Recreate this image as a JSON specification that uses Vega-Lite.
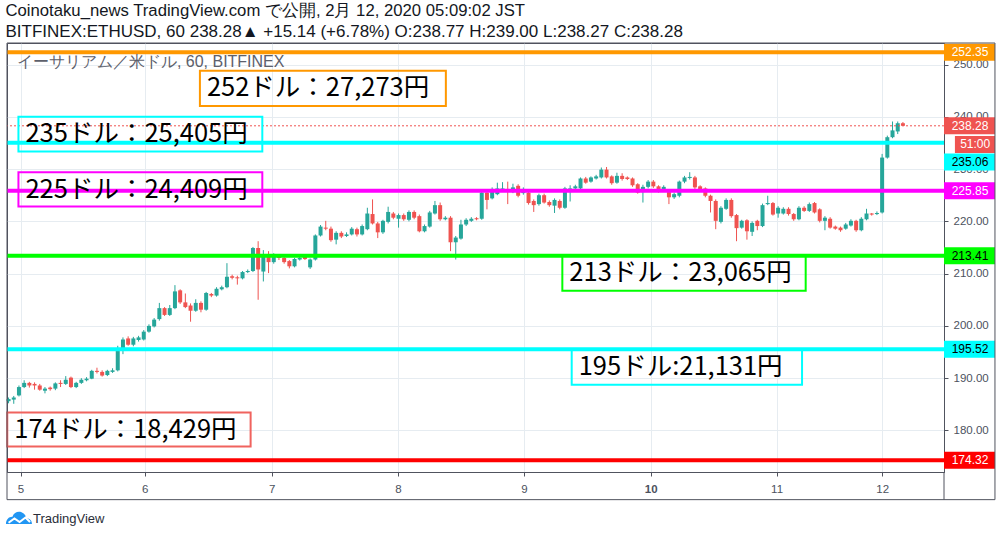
{
  "$schema": "https://vega.github.io/schema/vega-lite/v6.json",
  "width": 937,
  "height": 429,
  "autosize": "none",
  "padding": {"left": 7, "top": 43, "right": 58, "bottom": 65},
  "background": "white",
  "title": {
    "text": "Coinotaku_news TradingView.com で公開, 2月 12, 2020 05:09:02 JST",
    "subtitle": "BITFINEX:ETHUSD, 60 238.28▲ +15.14 (+6.78%) O:238.77 H:239.00 L:238.27 C:238.28",
    "anchor": "start",
    "frame": "group",
    "orient": "top",
    "offset": 3,
    "dx": -1.5,
    "font": "Liberation Sans",
    "fontSize": 16.7,
    "fontWeight": "normal",
    "color": "#131722",
    "subtitleFont": "Liberation Sans",
    "subtitleFontSize": 17,
    "subtitleColor": "#131722",
    "subtitlePadding": 4
  },
  "config": {
    "view": {"stroke": "#50535e", "strokeWidth": 1},
    "axis": {
      "labelFont": "Liberation Sans",
      "labelColor": "#4c525e",
      "gridColor": "#e6ecf1",
      "gridWidth": 1,
      "domainColor": "#50535e",
      "tickColor": "#50535e",
      "tickSize": 4
    }
  },
  "datasets": {
    "candles": [
      {"i":0,"o":185.6,"h":186.3,"l":185.2,"c":186.0},
      {"i":1,"o":185.9,"h":186.6,"l":185.1,"c":186.3},
      {"i":2,"o":186.7,"h":188.6,"l":186.5,"c":188.3},
      {"i":3,"o":188.3,"h":189.6,"l":188.1,"c":189.1},
      {"i":4,"o":189.1,"h":189.3,"l":188.2,"c":188.6},
      {"i":5,"o":188.9,"h":189.2,"l":187.8,"c":188.6},
      {"i":6,"o":188.6,"h":188.9,"l":187.6,"c":187.8},
      {"i":7,"o":187.6,"h":188.3,"l":187.1,"c":188.0},
      {"i":8,"o":188.2,"h":188.4,"l":187.6,"c":187.9},
      {"i":9,"o":188.0,"h":189.2,"l":187.7,"c":189.0},
      {"i":10,"o":189.1,"h":189.6,"l":188.3,"c":188.9},
      {"i":11,"o":188.9,"h":190.4,"l":188.7,"c":189.7},
      {"i":12,"o":190.1,"h":190.3,"l":188.1,"c":188.3},
      {"i":13,"o":188.3,"h":189.3,"l":188.1,"c":189.1},
      {"i":14,"o":189.1,"h":190.0,"l":188.9,"c":189.7},
      {"i":15,"o":189.6,"h":190.2,"l":189.4,"c":189.9},
      {"i":16,"o":189.9,"h":191.6,"l":189.8,"c":191.4},
      {"i":17,"o":191.4,"h":192.0,"l":190.9,"c":191.2},
      {"i":18,"o":191.2,"h":191.5,"l":190.3,"c":190.5},
      {"i":19,"o":190.6,"h":191.6,"l":190.4,"c":191.4},
      {"i":20,"o":191.2,"h":191.9,"l":191.0,"c":191.5},
      {"i":21,"o":191.5,"h":196.2,"l":191.3,"c":195.4},
      {"i":22,"o":195.7,"h":197.8,"l":194.6,"c":197.4},
      {"i":23,"o":197.6,"h":198.0,"l":196.2,"c":196.4},
      {"i":24,"o":196.4,"h":197.9,"l":196.1,"c":197.6},
      {"i":25,"o":197.3,"h":198.1,"l":197.0,"c":197.8},
      {"i":26,"o":197.4,"h":199.2,"l":197.2,"c":198.9},
      {"i":27,"o":198.9,"h":200.3,"l":198.7,"c":200.0},
      {"i":28,"o":199.9,"h":201.5,"l":199.7,"c":201.2},
      {"i":29,"o":201.3,"h":204.4,"l":201.0,"c":203.4},
      {"i":30,"o":203.4,"h":203.6,"l":201.9,"c":202.1},
      {"i":31,"o":202.1,"h":204.0,"l":201.9,"c":203.4},
      {"i":32,"o":203.4,"h":207.8,"l":203.2,"c":206.6},
      {"i":33,"o":206.8,"h":207.0,"l":204.2,"c":204.5},
      {"i":34,"o":204.5,"h":206.2,"l":203.4,"c":203.6},
      {"i":35,"o":203.9,"h":204.3,"l":200.8,"c":202.9},
      {"i":36,"o":202.9,"h":205.1,"l":202.7,"c":204.4},
      {"i":37,"o":204.4,"h":204.7,"l":202.6,"c":203.1},
      {"i":38,"o":203.1,"h":206.5,"l":202.9,"c":206.3},
      {"i":39,"o":206.1,"h":206.3,"l":205.5,"c":205.8},
      {"i":40,"o":205.8,"h":207.4,"l":205.6,"c":207.1},
      {"i":41,"o":207.0,"h":207.7,"l":206.8,"c":207.4},
      {"i":42,"o":207.4,"h":212.0,"l":207.2,"c":209.4},
      {"i":43,"o":209.5,"h":209.8,"l":208.9,"c":209.2},
      {"i":44,"o":209.3,"h":209.6,"l":207.9,"c":209.1},
      {"i":45,"o":209.1,"h":210.5,"l":208.9,"c":210.3},
      {"i":46,"o":210.3,"h":210.8,"l":210.1,"c":210.5},
      {"i":47,"o":210.5,"h":215.1,"l":210.3,"c":214.9},
      {"i":48,"o":214.9,"h":216.2,"l":205.0,"c":210.8},
      {"i":49,"o":210.4,"h":214.5,"l":208.5,"c":213.7},
      {"i":50,"o":213.7,"h":214.3,"l":210.1,"c":212.2},
      {"i":51,"o":212.2,"h":213.9,"l":211.9,"c":213.2},
      {"i":52,"o":213.2,"h":213.7,"l":212.6,"c":213.0},
      {"i":53,"o":213.0,"h":213.3,"l":211.9,"c":212.2},
      {"i":54,"o":212.4,"h":212.6,"l":211.0,"c":211.4},
      {"i":55,"o":211.4,"h":213.0,"l":211.2,"c":212.8},
      {"i":56,"o":212.7,"h":213.3,"l":212.5,"c":213.0},
      {"i":57,"o":213.3,"h":213.5,"l":212.6,"c":212.8},
      {"i":58,"o":211.2,"h":212.9,"l":210.9,"c":212.7},
      {"i":59,"o":212.7,"h":217.5,"l":212.5,"c":217.3},
      {"i":60,"o":217.3,"h":219.3,"l":217.1,"c":219.0},
      {"i":61,"o":218.8,"h":220.1,"l":218.3,"c":218.6},
      {"i":62,"o":218.6,"h":219.0,"l":216.1,"c":216.4},
      {"i":63,"o":216.5,"h":218.1,"l":215.6,"c":217.8},
      {"i":64,"o":217.8,"h":218.1,"l":216.8,"c":217.1},
      {"i":65,"o":217.2,"h":217.9,"l":217.0,"c":217.5},
      {"i":66,"o":217.5,"h":218.9,"l":217.3,"c":218.6},
      {"i":67,"o":218.5,"h":218.8,"l":217.1,"c":217.5},
      {"i":68,"o":217.5,"h":219.4,"l":217.3,"c":219.1},
      {"i":69,"o":218.5,"h":222.6,"l":218.3,"c":221.5},
      {"i":70,"o":221.4,"h":224.2,"l":219.4,"c":219.6},
      {"i":71,"o":219.6,"h":219.9,"l":216.8,"c":217.9},
      {"i":72,"o":217.9,"h":220.3,"l":217.6,"c":220.1},
      {"i":73,"o":219.9,"h":222.8,"l":219.6,"c":221.8},
      {"i":74,"o":221.5,"h":221.8,"l":220.4,"c":220.7},
      {"i":75,"o":220.5,"h":221.5,"l":218.8,"c":221.2},
      {"i":76,"o":221.2,"h":221.5,"l":220.1,"c":220.4},
      {"i":77,"o":220.3,"h":222.1,"l":220.0,"c":221.8},
      {"i":78,"o":221.8,"h":222.1,"l":220.4,"c":220.7},
      {"i":79,"o":221.0,"h":221.3,"l":217.9,"c":218.1},
      {"i":80,"o":218.1,"h":219.4,"l":217.9,"c":219.1},
      {"i":81,"o":219.0,"h":222.0,"l":218.8,"c":221.7},
      {"i":82,"o":221.5,"h":223.9,"l":221.3,"c":223.1},
      {"i":83,"o":223.1,"h":223.6,"l":220.1,"c":220.4},
      {"i":84,"o":220.4,"h":221.0,"l":220.2,"c":220.7},
      {"i":85,"o":220.7,"h":221.0,"l":214.3,"c":216.0},
      {"i":86,"o":216.0,"h":217.2,"l":212.7,"c":216.9},
      {"i":87,"o":216.7,"h":220.3,"l":216.5,"c":219.4},
      {"i":88,"o":219.4,"h":220.6,"l":219.1,"c":220.3},
      {"i":89,"o":220.1,"h":220.8,"l":219.9,"c":220.5},
      {"i":90,"o":220.6,"h":220.8,"l":220.2,"c":220.4},
      {"i":91,"o":220.5,"h":225.7,"l":220.3,"c":225.5},
      {"i":92,"o":225.5,"h":225.8,"l":222.3,"c":224.1},
      {"i":93,"o":224.4,"h":226.5,"l":224.2,"c":226.2},
      {"i":94,"o":225.2,"h":227.4,"l":225.0,"c":226.3},
      {"i":95,"o":226.0,"h":227.5,"l":225.8,"c":226.3},
      {"i":96,"o":226.2,"h":227.6,"l":223.3,"c":225.8},
      {"i":97,"o":225.6,"h":227.2,"l":225.4,"c":226.5},
      {"i":98,"o":226.8,"h":227.1,"l":224.6,"c":224.9},
      {"i":99,"o":225.4,"h":226.5,"l":225.1,"c":226.2},
      {"i":100,"o":225.5,"h":225.8,"l":223.2,"c":223.5},
      {"i":101,"o":223.9,"h":224.2,"l":221.8,"c":223.1},
      {"i":102,"o":223.3,"h":225.3,"l":223.0,"c":225.0},
      {"i":103,"o":225.0,"h":225.3,"l":223.4,"c":223.6},
      {"i":104,"o":223.7,"h":224.0,"l":222.8,"c":223.1},
      {"i":105,"o":223.0,"h":224.4,"l":221.6,"c":224.1},
      {"i":106,"o":223.9,"h":224.2,"l":222.3,"c":222.6},
      {"i":107,"o":222.6,"h":226.6,"l":222.4,"c":226.3},
      {"i":108,"o":225.6,"h":226.9,"l":223.8,"c":226.3},
      {"i":109,"o":226.3,"h":227.0,"l":226.1,"c":226.7},
      {"i":110,"o":226.3,"h":228.4,"l":226.1,"c":228.2},
      {"i":111,"o":228.2,"h":228.5,"l":227.2,"c":227.4},
      {"i":112,"o":227.6,"h":228.6,"l":227.4,"c":228.4},
      {"i":113,"o":228.2,"h":228.9,"l":228.0,"c":228.6},
      {"i":114,"o":228.4,"h":230.3,"l":228.2,"c":229.9},
      {"i":115,"o":229.9,"h":230.4,"l":228.2,"c":228.4},
      {"i":116,"o":228.6,"h":228.8,"l":227.0,"c":227.3},
      {"i":117,"o":227.4,"h":229.3,"l":227.2,"c":228.7},
      {"i":118,"o":228.7,"h":229.2,"l":227.8,"c":228.1},
      {"i":119,"o":228.4,"h":228.6,"l":227.9,"c":228.1},
      {"i":120,"o":228.2,"h":228.4,"l":226.6,"c":226.9},
      {"i":121,"o":227.1,"h":227.3,"l":225.3,"c":225.5},
      {"i":122,"o":225.6,"h":227.0,"l":223.6,"c":226.6},
      {"i":123,"o":226.6,"h":227.9,"l":226.3,"c":227.6},
      {"i":124,"o":227.6,"h":227.9,"l":226.4,"c":226.7},
      {"i":125,"o":226.7,"h":226.9,"l":225.5,"c":225.8},
      {"i":126,"o":226.0,"h":226.9,"l":225.8,"c":226.6},
      {"i":127,"o":225.6,"h":225.9,"l":223.3,"c":224.6},
      {"i":128,"o":224.6,"h":225.5,"l":224.3,"c":225.2},
      {"i":129,"o":224.9,"h":227.8,"l":224.6,"c":227.6},
      {"i":130,"o":227.6,"h":228.7,"l":227.3,"c":228.4},
      {"i":131,"o":228.3,"h":229.4,"l":228.0,"c":228.5},
      {"i":132,"o":228.4,"h":228.7,"l":226.2,"c":226.5},
      {"i":133,"o":226.7,"h":226.9,"l":225.8,"c":226.0},
      {"i":134,"o":226.3,"h":226.5,"l":224.6,"c":224.9},
      {"i":135,"o":224.9,"h":225.1,"l":221.7,"c":223.9},
      {"i":136,"o":223.9,"h":224.2,"l":218.5,"c":220.1},
      {"i":137,"o":219.9,"h":222.9,"l":219.6,"c":222.6},
      {"i":138,"o":222.4,"h":224.4,"l":222.2,"c":224.1},
      {"i":139,"o":224.1,"h":224.4,"l":220.7,"c":221.0},
      {"i":140,"o":221.2,"h":221.4,"l":216.2,"c":218.7},
      {"i":141,"o":218.8,"h":220.3,"l":218.6,"c":220.1},
      {"i":142,"o":220.2,"h":220.4,"l":216.5,"c":218.1},
      {"i":143,"o":218.0,"h":220.0,"l":217.2,"c":219.7},
      {"i":144,"o":220.1,"h":220.3,"l":218.3,"c":219.1},
      {"i":145,"o":219.1,"h":223.4,"l":218.9,"c":223.1},
      {"i":146,"o":223.3,"h":224.9,"l":223.1,"c":223.5},
      {"i":147,"o":223.5,"h":223.7,"l":221.1,"c":221.3},
      {"i":148,"o":221.5,"h":222.9,"l":220.7,"c":222.6},
      {"i":149,"o":221.5,"h":222.7,"l":221.3,"c":222.4},
      {"i":150,"o":222.4,"h":222.7,"l":221.1,"c":221.4},
      {"i":151,"o":221.4,"h":221.6,"l":220.1,"c":220.4},
      {"i":152,"o":220.4,"h":222.9,"l":220.2,"c":222.6},
      {"i":153,"o":222.6,"h":222.9,"l":221.8,"c":222.0},
      {"i":154,"o":222.0,"h":223.6,"l":221.8,"c":223.3},
      {"i":155,"o":223.5,"h":223.7,"l":221.5,"c":221.7},
      {"i":156,"o":222.3,"h":222.5,"l":219.8,"c":220.1},
      {"i":157,"o":220.1,"h":221.0,"l":218.3,"c":220.7},
      {"i":158,"o":220.5,"h":220.8,"l":218.6,"c":218.8},
      {"i":159,"o":219.0,"h":219.2,"l":218.4,"c":218.6},
      {"i":160,"o":218.8,"h":219.0,"l":218.0,"c":218.3},
      {"i":161,"o":218.6,"h":219.7,"l":218.4,"c":219.4},
      {"i":162,"o":219.2,"h":220.4,"l":219.0,"c":220.1},
      {"i":163,"o":220.1,"h":220.3,"l":218.0,"c":218.3},
      {"i":164,"o":218.3,"h":220.8,"l":218.1,"c":220.5},
      {"i":165,"o":220.4,"h":222.4,"l":220.2,"c":221.5},
      {"i":166,"o":221.5,"h":221.6,"l":221.1,"c":221.3},
      {"i":167,"o":221.4,"h":221.9,"l":221.2,"c":221.6},
      {"i":168,"o":221.7,"h":232.9,"l":221.5,"c":232.2},
      {"i":169,"o":232.2,"h":236.4,"l":232.0,"c":236.1},
      {"i":170,"o":236.1,"h":239.1,"l":235.9,"c":237.4},
      {"i":171,"o":237.2,"h":239.1,"l":236.7,"c":238.77},
      {"i":172,"o":238.77,"h":239.0,"l":238.27,"c":238.28}
    ],
    "levels": [
      {"key":"252","price":252.35},
      {"key":"235","price":235.06},
      {"key":"225","price":225.85},
      {"key":"213","price":213.41},
      {"key":"195","price":195.52},
      {"key":"174","price":174.32}
    ],
    "boxes": [
      {"key":"252","x1":36.8,"x2":84.1,"top":248.82,"bottom":242.08,"label":"252ドル：27,273円"},
      {"key":"235","x1":1.9,"x2":48.8,"top":240.03,"bottom":233.34,"label":"235ドル：25,405円"},
      {"key":"225","x1":1.9,"x2":48.8,"top":229.4,"bottom":222.83,"label":"225ドル：24,409円"},
      {"key":"213","x1":106.5,"x2":153.3,"top":213.4,"bottom":206.71,"label":"213ドル：23,065円"},
      {"key":"195","x1":108.3,"x2":152.6,"top":195.43,"bottom":188.74,"label":"195ドル:21,131円"},
      {"key":"174box","x1":-0.25,"x2":46.55,"top":183.44,"bottom":176.95,"label":"174ドル：18,429円"}
    ],
    "tags": [
      {"key":"252","tag":"252.35","tp":252.35},
      {"key":"price","tag":"238.28","tp":238.28},
      {"key":"235","tag":"235.06","tp":231.37},
      {"key":"225","tag":"225.85","tp":225.85},
      {"key":"213","tag":"213.41","tp":213.41},
      {"key":"195","tag":"195.52","tp":195.52},
      {"key":"174","tag":"174.32","tp":174.32}
    ]
  },
  "layer": [
    {
      "data": {"name": "candles"},
      "mark": {"type": "rule", "strokeWidth": 1},
      "encoding": {
        "x": {
          "field": "i", "type": "quantitative", "title": null,
          "scale": {"domain": [-0.3, 179.9], "nice": false, "zero": false, "padding": 0},
          "axis": {
            "orient": "bottom",
            "values": [2.3, 26.2, 50.6, 74.9, 99.1, 123.5, 147.7, 168],
            "labelExpr": "datum.value < 10 ? '5' : datum.value < 40 ? '6' : datum.value < 60 ? '7' : datum.value < 85 ? '8' : datum.value < 110 ? '9' : datum.value < 135 ? '10' : datum.value < 160 ? '11' : '12'",
            "grid": true,
            "labelFontSize": 11.5,
            "labelPadding": 7,
            "labelFontWeight": {"condition": {"test": "datum.value > 120 && datum.value < 127", "value": "bold"}, "value": "normal"}
          }
        },
        "y": {
          "field": "l", "type": "quantitative", "title": null,
          "scale": {"domain": [172.05, 254.12], "nice": false, "zero": false, "padding": 0},
          "axis": {
            "orient": "right",
            "values": [180, 190, 200, 210, 220, 230, 240, 250],
            "format": ".2f",
            "grid": true,
            "labelFontSize": 11.5,
            "labelPadding": 5
          }
        },
        "y2": {"field": "h"},
        "color": {"condition": {"test": "datum.c < datum.o", "value": "#ef5350"}, "value": "#26a69a"}
      }
    },
    {
      "data": {"name": "candles"},
      "mark": {"type": "bar", "width": 4},
      "encoding": {
        "x": {"field": "i", "type": "quantitative", "title": null},
        "y": {"field": "o", "type": "quantitative", "title": null},
        "y2": {"field": "c"},
        "color": {"condition": {"test": "datum.c < datum.o", "value": "#ef5350"}, "value": "#26a69a"}
      }
    },
    {
      "data": {"values": [{"p": 238.28}]},
      "mark": {"type": "rule", "color": "#ef5350", "strokeWidth": 1, "strokeDash": [2, 2]},
      "encoding": {
        "y": {"field": "p", "type": "quantitative", "title": null}
      }
    },
    {
      "data": {"name": "levels"},
      "mark": {"type": "rule", "strokeWidth": 4},
      "encoding": {
        "y": {"field": "price", "type": "quantitative", "title": null},
        "color": {
          "field": "key", "type": "nominal", "legend": null,
          "scale": {
            "domain": ["252", "235", "225", "213", "195", "174", "174box", "price"],
            "range": ["#ff9800", "#00ffff", "#ff00ff", "#00ff00", "#00ffff", "#ff0000", "#f0635e", "#ef5350"]
          }
        }
      }
    },
    {
      "data": {"name": "boxes"},
      "mark": {"type": "rect", "filled": false, "strokeWidth": 2},
      "encoding": {
        "x": {"field": "x1", "type": "quantitative", "title": null},
        "x2": {"field": "x2"},
        "y": {"field": "top", "type": "quantitative", "title": null},
        "y2": {"field": "bottom"},
        "color": {"field": "key", "type": "nominal", "legend": null}
      }
    },
    {
      "data": {"name": "boxes"},
      "mark": {"type": "text", "align": "left", "baseline": "middle", "dx": 7, "dy": 17.5, "font": "Noto Sans CJK JP", "fontSize": 25.5, "color": "#000000"},
      "encoding": {
        "x": {"field": "x1", "type": "quantitative", "title": null},
        "y": {"field": "top", "type": "quantitative", "title": null},
        "text": {"field": "label"}
      }
    },
    {
      "data": {"name": "tags"},
      "mark": {"type": "rect", "height": 17},
      "encoding": {
        "x": {"datum": 179.9, "type": "quantitative", "title": null},
        "x2": {"datum": 189.7},
        "y": {"field": "tp", "type": "quantitative", "title": null},
        "color": {"field": "key", "type": "nominal", "legend": null}
      }
    },
    {
      "data": {"name": "tags"},
      "mark": {"type": "text", "align": "center", "baseline": "middle", "font": "Liberation Sans", "fontSize": 12},
      "encoding": {
        "x": {"datum": 184.9, "type": "quantitative", "title": null},
        "y": {"field": "tp", "type": "quantitative", "title": null},
        "text": {"field": "tag"},
        "color": {"condition": {"test": "indexof(['235','213','195'], datum.key) >= 0", "value": "#000000"}, "value": "#ffffff"}
      }
    },
    {
      "data": {"values": [{"tag": "51:00", "tp": 234.72}]},
      "mark": {"type": "rect", "height": 17, "color": "#ef5350"},
      "encoding": {
        "x": {"datum": 182.0, "type": "quantitative", "title": null},
        "x2": {"datum": 189.7},
        "y": {"field": "tp", "type": "quantitative", "title": null}
      }
    },
    {
      "data": {"values": [{"tag": "51:00", "tp": 234.72}]},
      "mark": {"type": "text", "align": "center", "baseline": "middle", "font": "Liberation Sans", "fontSize": 12, "color": "#ffffff"},
      "encoding": {
        "x": {"datum": 185.9, "type": "quantitative", "title": null},
        "y": {"field": "tp", "type": "quantitative", "title": null},
        "text": {"field": "tag"}
      }
    },
    {
      "data": {"values": [{"t": "イーサリアム／米ドル, 60, BITFINEX"}]},
      "mark": {"type": "text", "align": "left", "baseline": "middle", "font": "Liberation Sans", "fontSize": 16, "color": "#5d606b"},
      "encoding": {
        "x": {"datum": 1.6, "type": "quantitative", "title": null},
        "y": {"datum": 250.49, "type": "quantitative", "title": null},
        "text": {"field": "t"}
      }
    },
    {
      "data": {"values": [{}]},
      "mark": {"type": "rect", "filled": false, "stroke": "#50535e", "strokeWidth": 1},
      "encoding": {
        "x": {"datum": -0.3, "type": "quantitative", "title": null},
        "x2": {"datum": 189.7},
        "y": {"datum": 166.76, "type": "quantitative", "title": null},
        "y2": {"datum": 254.12}
      }
    },
    {
      "data": {"values": [{}]},
      "mark": {"type": "rule", "stroke": "#50535e", "strokeWidth": 1},
      "encoding": {
        "x": {"datum": 179.9, "type": "quantitative", "title": null},
        "y": {"datum": 166.76, "type": "quantitative", "title": null},
        "y2": {"datum": 172.05}
      }
    },
    {
      "data": {"values": [{}]},
      "mark": {"type": "point", "filled": true, "color": "#2196f3", "opacity": 1, "size": 676, "shape": "M-1,0.45 C-1,0.1 -0.75,-0.12 -0.5,-0.1 C-0.4,-0.45 -0.05,-0.55 0.2,-0.45 C0.45,-0.35 0.55,-0.15 0.55,0 C0.85,0 1,0.2 1,0.45 Z"},
      "encoding": {
        "x": {"datum": 2.0, "type": "quantitative", "title": null},
        "y": {"datum": 163.22, "type": "quantitative", "title": null}
      }
    },
    {
      "data": {"values": [{}]},
      "mark": {"type": "point", "filled": false, "stroke": "#ffffff", "strokeWidth": 2, "opacity": 1, "size": 676, "shape": "M-0.8,0.35 L-0.35,0.02 L0.05,0.3 L0.5,-0.05 L0.85,0.3"},
      "encoding": {
        "x": {"datum": 2.0, "type": "quantitative", "title": null},
        "y": {"datum": 163.22, "type": "quantitative", "title": null}
      }
    },
    {
      "data": {"values": [{"t": "TradingView"}]},
      "mark": {"type": "text", "align": "left", "baseline": "middle", "font": "Liberation Sans", "fontSize": 13, "color": "#2a2e39"},
      "encoding": {
        "x": {"datum": 4.69, "type": "quantitative", "title": null},
        "y": {"datum": 163.12, "type": "quantitative", "title": null},
        "text": {"field": "t"}
      }
    }
  ]
}
